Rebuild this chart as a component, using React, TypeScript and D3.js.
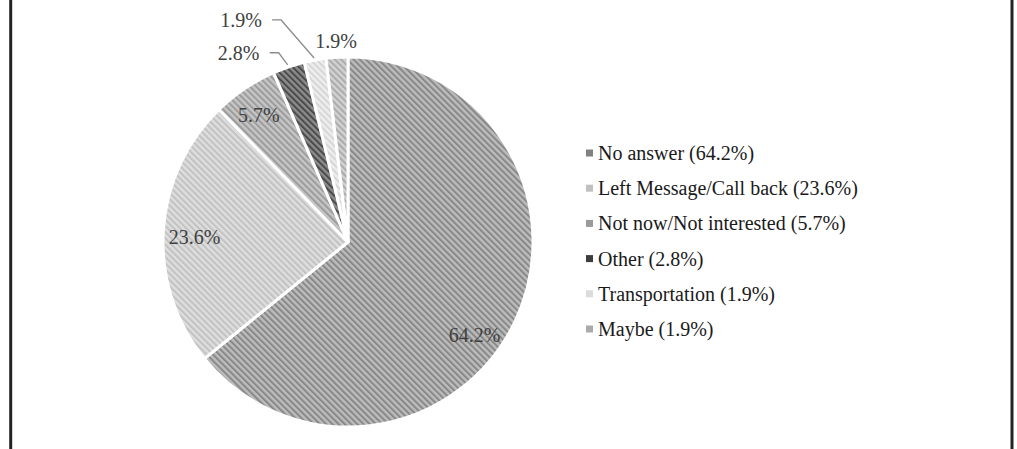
import React from 'react';
import * as d3 from 'd3';

const categories = [
  'No answer',
  'Left Message/Call back',
  'Not now/Not interested',
  'Other',
  'Transportation',
  'Maybe',
];
const values = [64.2, 23.6, 5.7, 2.8, 1.9, 1.9];

// base and stripe tones of each hatched slice, and the legend swatch tone
const baseColors = ['#bcbcbc', '#dedede', '#c6c6c6', '#8c8c8c', '#eeeeee', '#d2d2d2'];
const stripeColors = ['#888888', '#c2c2c2', '#9c9c9c', '#4a4a4a', '#d6d6d6', '#ababab'];
const swatchColors = ['#808080', '#c0c0c0', '#9a9a9a', '#3c3c3c', '#dcdcdc', '#aaaaaa'];

// label placement: radius as a fraction of the pie radius, angle shift in degrees, pixel nudge
const labelLayout = [
  { r: 0.85, shift: 11, dx: 0, dy: 0, leader: false },
  { r: 0.83, shift: -1.4, dx: 0, dy: 0, leader: false },
  { r: 0.84, shift: -1, dx: 0, dy: 0, leader: false },
  { r: 1.0, shift: 0, dx: -50, dy: -14, leader: true },
  { r: 1.0, shift: 0, dx: -74, dy: -40, leader: true },
  { r: 1.09, shift: 0, dx: 0, dy: 0, leader: false },
];

const width = 1017;
const height = 449;

const App: React.FC = () => {
  const svgRef = React.useRef<SVGSVGElement>(null);

  React.useEffect(() => {
    if (!svgRef.current) return;
    const svg = d3.select(svgRef.current);
    svg.selectAll('*').remove();

    const cx = 348;
    const cy = 242;
    const radius = 185;

    // frame lines on both sides
    svg.append('line')
      .attr('x1', 10.7).attr('x2', 10.7).attr('y1', 0).attr('y2', height)
      .attr('stroke', '#222').attr('stroke-width', 3);
    svg.append('line')
      .attr('x1', 1012).attr('x2', 1012).attr('y1', 0).attr('y2', height)
      .attr('stroke', '#222').attr('stroke-width', 3);

    // hatch patterns
    const defs = svg.append('defs');
    categories.forEach((c, i) => {
      const p = defs.append('pattern')
        .attr('id', `hatch${i}`)
        .attr('patternUnits', 'userSpaceOnUse')
        .attr('width', 4.4)
        .attr('height', 4.4)
        .attr('patternTransform', 'rotate(-45)');
      p.append('rect').attr('width', 4.4).attr('height', 4.4).attr('fill', baseColors[i]);
      p.append('rect').attr('width', 2).attr('height', 4.4).attr('fill', stripeColors[i]);
    });

    const pie = d3.pie<number>().sort(null).value(d => d);
    const arcs = pie(values);
    const arc = d3.arc<d3.PieArcDatum<number>>().innerRadius(0).outerRadius(radius);

    const g = svg.append('g').attr('transform', `translate(${cx},${cy})`);

    g.selectAll('path')
      .data(arcs)
      .enter().append('path')
      .attr('d', arc)
      .attr('fill', (d, i) => `url(#hatch${i})`)
      .attr('stroke', '#fff')
      .attr('stroke-width', 3)
      .attr('stroke-linejoin', 'round');

    // data labels
    arcs.forEach((d, i) => {
      const lay = labelLayout[i];
      const mid = (d.startAngle + d.endAngle) / 2;
      const a = mid + (lay.shift * Math.PI) / 180;
      const ex = Math.sin(mid) * radius;
      const ey = -Math.cos(mid) * radius;
      const lx = Math.sin(a) * radius * lay.r + lay.dx;
      const ly = -Math.cos(a) * radius * lay.r + lay.dy;
      if (lay.leader) {
        const sx = lx + 31;
        g.append('polyline')
          .attr('points', `${sx},${ly} ${sx + 9},${ly} ${ex - 1},${ey - 2}`)
          .attr('fill', 'none')
          .attr('stroke', '#8c8c8c')
          .attr('stroke-width', 1.3);
      }
      g.append('text')
        .attr('x', lx)
        .attr('y', ly)
        .attr('dy', '0.35em')
        .attr('text-anchor', 'middle')
        .attr('font-family', '"Liberation Serif", "Times New Roman", serif')
        .attr('font-size', 20)
        .attr('fill', '#404040')
        .text(`${values[i]}%`);
    });

    // legend
    const y = d3.scalePoint<string>()
      .domain(categories)
      .range([153, 329]);

    const legend = svg.append('g')
      .selectAll('g')
      .data(categories)
      .enter().append('g')
      .attr('transform', d => `translate(586,${y(d)})`);

    legend.append('rect')
      .attr('x', 0)
      .attr('y', -3.5)
      .attr('width', 7)
      .attr('height', 7)
      .attr('fill', (d, i) => swatchColors[i]);

    legend.append('text')
      .attr('x', 12)
      .attr('y', 0)
      .attr('dy', '0.35em')
      .attr('font-family', '"Liberation Serif", "Times New Roman", serif')
      .attr('font-size', 20)
      .attr('fill', '#1a1a1a')
      .text((d, i) => `${d} (${values[i]}%)`);
  }, []);

  return (
    <svg
      ref={svgRef}
      width={width}
      height={height}
      viewBox={`0 0 ${width} ${height}`}
      style={{ position: 'absolute', left: 0, top: 0, background: '#fff' }}
    />
  );
};

export default App;
